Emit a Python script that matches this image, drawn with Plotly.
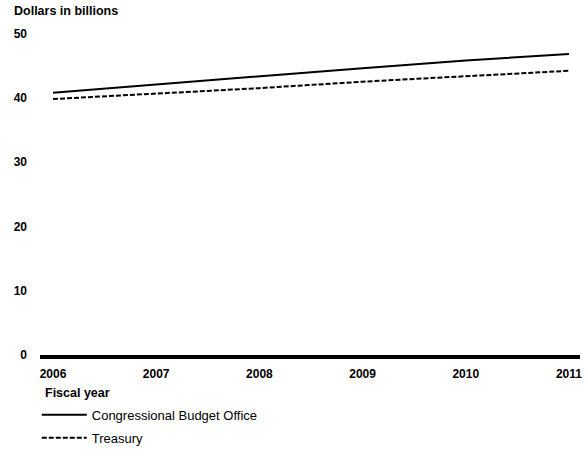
import plotly.graph_objects as go

years = [2006, 2007, 2008, 2009, 2010, 2011]
cbo = [40.8, 42.1, 43.4, 44.6, 45.8, 46.8]
treasury = [39.8, 40.6, 41.5, 42.5, 43.4, 44.2]
y_ticks = [0, 10, 20, 30, 40, 50]
series_names = ["Congressional Budget Office", "Treasury"]

FONT = "Liberation Sans, Arial, sans-serif"

fig = go.Figure()
fig.add_trace(go.Scatter(x=years, y=cbo, mode="lines", name=series_names[0],
                         legendgroup="a",
                         line=dict(color="black", width=2)))
fig.add_trace(go.Scatter(x=years, y=treasury, mode="lines", name=series_names[1],
                         legendgroup="b",
                         line=dict(color="black", width=2, dash="5px,2px")))

fig.update_layout(
    template="none",
    width=587, height=452,
    margin=dict(l=40, r=7, t=30, b=97, autoexpand=False),
    paper_bgcolor="white", plot_bgcolor="white",
    font=dict(family=FONT, color="black"),
    showlegend=True,
    legend=dict(x=-0.006, xanchor="left", y=-0.138, yanchor="top",
                font=dict(size=13, family=FONT), itemwidth=45,
                tracegroupgap=3, bgcolor="rgba(0,0,0,0)", borderwidth=0),
    xaxis=dict(range=[2005.874, 2011.107], tickvals=years,
               ticktext=[str(y) for y in years], automargin=False,
               showgrid=False, zeroline=False, showline=True,
               linecolor="black", linewidth=4, ticks="",
               ticklabelstandoff=5,
               tickfont=dict(size=12, family=FONT, weight="bold")),
    yaxis=dict(range=[0, 50.54], tickvals=y_ticks, automargin=False,
               showgrid=False, zeroline=False, showline=False, ticks="",
               ticklabelstandoff=12,
               tickfont=dict(size=12, family=FONT, weight="bold")),
    annotations=[
        dict(text="<b>Dollars in billions</b>", xref="paper", yref="paper",
             x=-0.052, y=1.058, xanchor="left", yanchor="middle",
             showarrow=False, font=dict(size=12.5, family=FONT)),
        dict(text="<b>Fiscal year</b>", xref="paper", yref="paper",
             x=0.005, y=-0.117, xanchor="left", yanchor="middle",
             showarrow=False, font=dict(size=12.5, family=FONT)),
    ],
)

fig.write_html("out.html", config={"displayModeBar": False},
               post_script="document.body.style.margin='0';document.body.style.overflow='hidden';")
